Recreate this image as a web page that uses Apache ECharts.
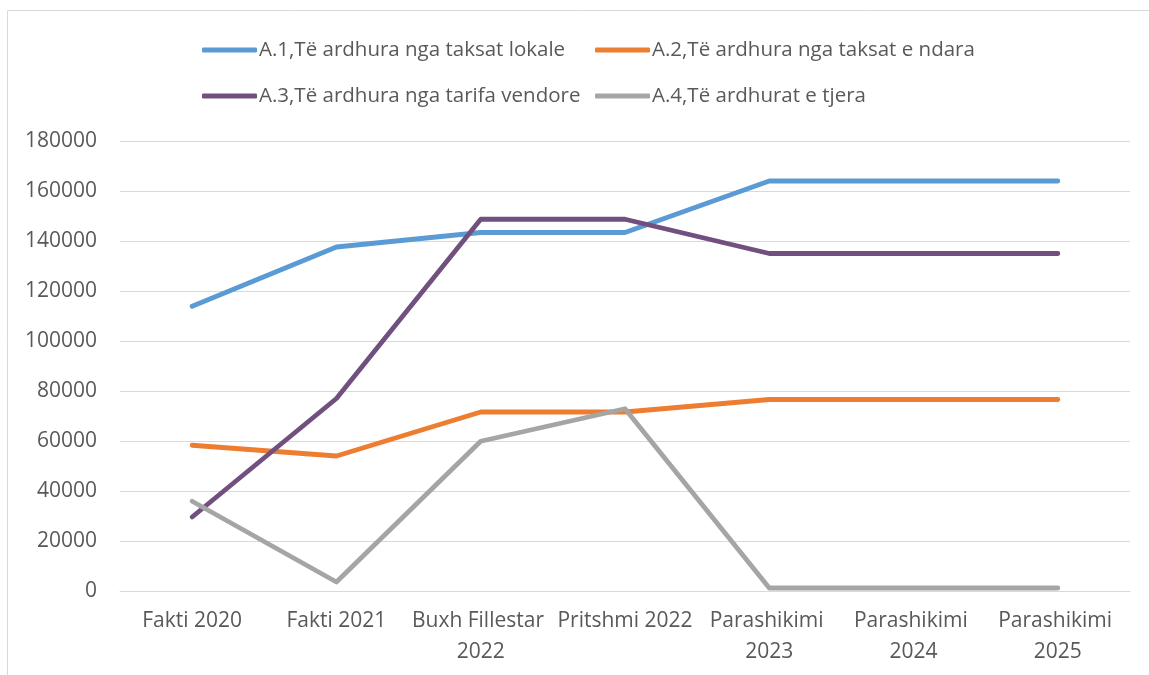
<!DOCTYPE html>
<html>
<head>
<meta charset="utf-8">
<script src="https://cdn.jsdelivr.net/npm/echarts@6/dist/echarts.min.js"></script>
<style>
  html, body { margin: 0; padding: 0; background: #fff; }
  #main { width: 1149px; height: 675px; }
</style>
</head>
<body>
<div id="main"></div>
<script>
// kategorite dhe vlerat
var categories = ['Fakti 2020', 'Fakti 2021', 'Buxh Fillestar 2022', 'Pritshmi 2022',
    'Parashikimi 2023', 'Parashikimi 2024', 'Parashikimi 2025'];
var seriesNames = ['A.1,Të ardhura nga taksat lokale', 'A.2,Të ardhura nga taksat e ndara',
    'A.3,Të ardhura nga tarifa vendore', 'A.4,Të ardhurat e tjera'];
var taksatLokale = [113900, 137600, 143400, 143400, 164000, 164000, 164000];
var taksatNdara = [58300, 54000, 71600, 71600, 76600, 76600, 76600];
var tarifaVendore = [29600, 77000, 148700, 148700, 135000, 135000, 135000];
var teTjera = [35900, 3600, 59900, 72900, 1200, 1200, 1200];
var yTicks = [0, 180000, 20000]; // min, max, interval

var colors = ['#5B9BD5', '#ED7D31', '#71507F', '#A5A5A5'];
var allData = [taksatLokale, taksatNdara, tarifaVendore, teTjera];
var font = '"Open Sans", sans-serif';

var myChart = echarts.init(document.getElementById('main'));

var legendBase = {
    orient: 'vertical',
    top: 34,
    icon: 'roundRect',
    itemWidth: 55,
    itemHeight: 5,
    itemGap: 24,
    textStyle: { fontFamily: font, fontSize: 20.5, color: '#595959', lineHeight: 22, padding: [0, 0, 0, -3] }
};

var option = {
    backgroundColor: '#fff',
    animation: false,
    color: colors,
    graphic: [{
        type: 'rect',
        shape: { x: 7.5, y: 10.5, width: 1200, height: 700 },
        style: { fill: 'none', stroke: '#d9d9d9', lineWidth: 1 }
    }],
    legend: [
        Object.assign({ left: 197, data: [seriesNames[0], seriesNames[2]] }, legendBase),
        Object.assign({ left: 590, data: [seriesNames[1], seriesNames[3]] }, legendBase)
    ],
    grid: { left: 120, right: 19, top: 141, bottom: 84, outerBoundsMode: 'none' },
    xAxis: {
        type: 'category',
        data: categories,
        axisLine: { lineStyle: { color: '#d9d9d9', width: 1 } },
        axisTick: { show: false },
        axisLabel: {
            fontFamily: font, fontSize: 21, color: '#595959',
            margin: 15, lineHeight: 31, width: 142, overflow: 'break', interval: 0
        }
    },
    yAxis: {
        type: 'value',
        min: yTicks[0],
        max: yTicks[1],
        interval: yTicks[2],
        axisLine: { show: false },
        axisTick: { show: false },
        splitLine: { lineStyle: { color: '#d9d9d9', width: 1 } },
        axisLabel: {
            fontFamily: font, fontSize: 21, color: '#595959', margin: 23,
            formatter: function (v) { return String(v); }
        }
    },
    series: seriesNames.map(function (name, i) {
        return {
            name: name,
            type: 'line',
            data: allData[i],
            symbol: 'none',
            itemStyle: { color: colors[i] },
            lineStyle: { width: 4.8, color: colors[i], cap: 'round', join: 'round' }
        };
    })
};

myChart.setOption(option);
</script>
</body>
</html>
